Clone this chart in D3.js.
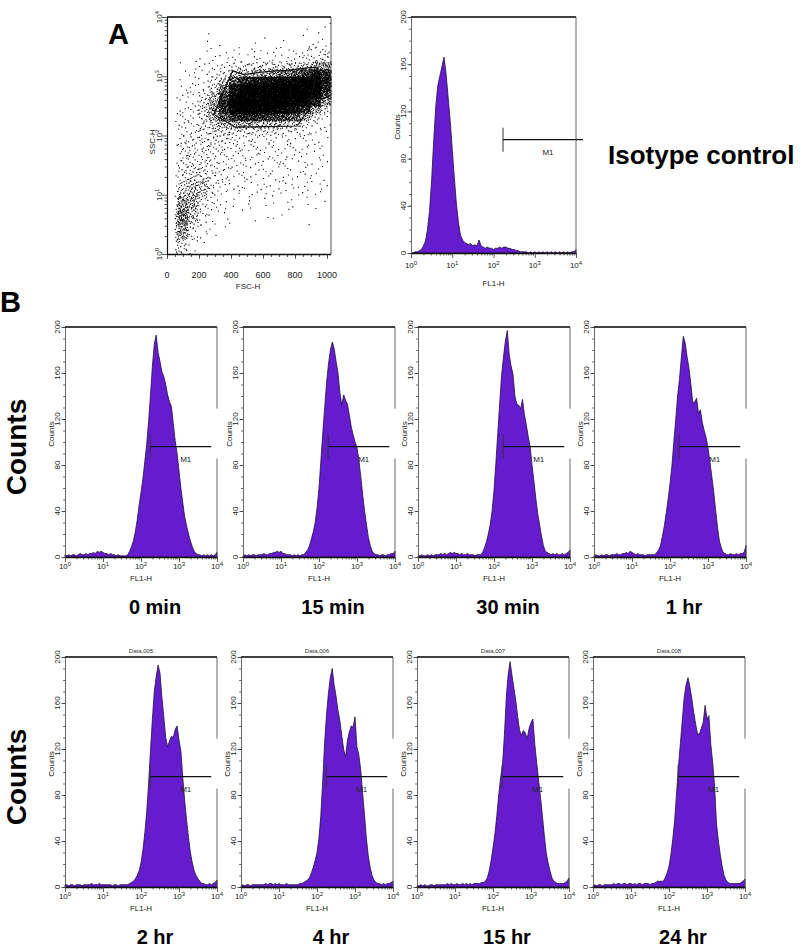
<!DOCTYPE html>
<html><head><meta charset="utf-8">
<script src="https://cdn.jsdelivr.net/npm/d3@7"></script>
<style>
body{margin:0;background:#fff;}
svg{display:block;}
</style></head><body>
<svg id="fig" width="800" height="947"></svg>
<script>
// ---------------- DATA ----------------
// FL1-H channel positions (log10 decades)
const fl1Decades = [0,0.05,0.1,0.15,0.2,0.25,0.3,0.35,0.4,0.45,0.5,0.55,0.6,0.65,0.7,0.75,0.8,0.85,0.9,0.95,1,1.05,1.1,1.15,1.2,1.25,1.3,1.35,1.4,1.45,1.5,1.55,1.6,1.65,1.7,1.75,1.8,1.85,1.9,1.95,2,2.05,2.1,2.15,2.2,2.25,2.3,2.35,2.4,2.45,2.5,2.55,2.6,2.65,2.7,2.75,2.8,2.85,2.9,2.95,3,3.05,3.1,3.15,3.2,3.25,3.3,3.35,3.4,3.45,3.5,3.55,3.6,3.65,3.7,3.75,3.8,3.85,3.9,3.95,4];

const isotypeCounts = [0,0,1,1,2,3,6,10,20,36, 62,95,124,142,150,158,166,152,132,112, 88,64,42,26,15,11,9,8,7,8, 6,7,6,11,6,5,4,5,4,4, 3,4,4,5,4,5,5,4,4,3, 3,2,2,1,1,1,1,0,1,0, 1,0,1,0,1,0,1,0,1,0, 1,0,1,0,1,0,1,0,1,1, 3];

const counts0min = [2,1,2,1,2,2,1,2,3,2, 2,3,2,3,3,4,3,5,4,5, 4,3,3,2,3,2,2,1,2,1, 1,1,
  1,2,5,9,14,22,32,45,56,68, 83,98,118,141,166,185,193,178,170,161, 157,150,141,135,131,116,101,90,75,60, 47,35,27,20,14,9,5,3,2,2, 1,2,1,2,1,2,1,2,4];
const counts15min = [1,2,1,2,1,2,2,1,2,2, 2,3,2,2,3,3,4,4,5,4, 5,3,3,2,2,2,1,2,1,2, 1,2,
  2,4,6,10,16,22,30,43,60,84, 108,130,152,168,180,187,181,170,160,143, 132,141,136,133,123,113,106,100,95,84, 70,54,40,28,17,10,5,3,2,2, 1,2,2,1,2,2,3,3,5];
const counts30min = [1,1,2,1,1,2,1,2,1,2, 2,2,3,2,3,2,3,4,3,4, 3,3,2,3,2,2,3,2,2,2, 1,2,
  2,2,4,8,13,20,28,40,58,82, 108,134,158,174,188,197,176,166,159,140, 133,132,129,137,124,115,105,96,80,66, 51,38,28,18,10,5,4,3,2,3, 2,3,2,2,3,2,3,4,6];
const counts1hr = [1,2,1,1,2,1,2,2,1,2, 2,2,3,2,2,3,3,4,3,5, 4,3,2,3,2,2,2,1,2,2, 2,2,
  2,4,6,10,18,27,38,50,64,79, 100,119,140,155,174,192,186,174,164,150, 134,135,138,125,128,117,110,104,95,83, 70,57,41,26,14,8,4,3,2,2, 3,2,2,3,2,3,3,4,10];
const counts2hr = [2,2,1,2,2,1,2,2,2,1, 2,2,2,2,3,2,2,2,3,2, 2,2,2,2,2,1,2,2,1,2, 2,2,
  2,2,3,4,5,7,10,14,21,32, 47,65,90,119,146,170,183,193,186,165, 148,130,122,127,131,130,137,140,128,118, 95,75,58,43,30,21,14,10,7,5, 3,3,2,2,3,2,3,4,6];
const counts4hr = [1,2,1,2,2,1,2,2,2,2, 2,2,2,3,2,3,3,2,3,2, 3,2,2,2,3,2,2,2,2,2, 2,3,
  3,4,5,6,8,12,17,23,30,42, 62,92,125,150,168,182,190,176,166,154, 145,132,120,113,127,135,140,139,148,122, 115,102,82,63,42,27,17,10,6,4, 3,3,2,3,2,3,3,4,5];
const counts15hr = [1,1,2,1,2,1,1,2,2,1, 2,2,2,2,2,2,3,2,3,2, 2,3,2,2,3,2,3,2,3,2, 3,3,
  3,3,4,4,5,8,14,23,34,46, 62,80,95,106,132,165,185,196,184,173, 162,148,136,132,136,134,129,138,143,146, 124,108,93,78,62,45,30,21,14,8, 5,4,3,3,3,3,4,5,8];
const counts24hr = [1,2,1,2,2,1,2,2,2,2, 2,3,2,3,3,2,3,3,2,3, 3,2,3,2,3,3,2,3,3,3, 2,3,
  3,4,5,5,5,5,8,12,18,28, 42,58,82,105,125,145,165,176,182,174, 164,152,142,133,133,138,143,158,146,149, 124,108,88,55,40,28,18,10,6,4, 3,3,3,3,3,3,4,5,7];

const timeLabels = ["0 min","15 min","30 min","1 hr","2 hr","4 hr","15 hr","24 hr"];
const panelTitles = ["","","","","Data.005","Data.006","Data.007","Data.008"];
const countTicks = [0,40,80,120,160,200];
const fscTicks = [0,200,400,600,800,1000];
const gateIsotype = [170, 14800];   // M1 marker range (FL1-H)
const gateTimecourse = [174, 7080];
const gateLevel = 96;               // counts at which M1 is drawn

// FSC/SSC dot density: columns = FSC bins, rows = log10 SSC bins (0.125 decade), bottom row first
const fscEdges = [48,64,128,192,256,320,384,448,512,576,640,704,768,832,896,960,1024];
const sscRowStart = [0,0.125,0.25,0.375,0.5,0.625,0.75,0.875,1,1.125,1.25,1.375,1.5,1.625,1.75,1.875,2,2.125,2.25,2.375,2.5,2.625,2.75,2.875,3,3.125,3.25,3.375,3.5,3.625,3.75,3.875];
const dotDensity = [
  [3,8,2,0,0,0,0,0,0,0,0,0,0,0,0,0],
  [2,7,2,1,0,0,0,0,0,0,0,0,0,0,0,0],
  [4,24,5,2,1,0,0,0,0,0,0,0,0,0,0,0],
  [4,26,6,2,1,1,0,0,0,0,0,0,0,0,0,0],
  [4,42,14,3,2,1,1,0,1,0,1,0,0,1,0,0],
  [4,43,16,4,2,1,0,1,0,1,0,1,0,0,0,0],
  [2,30,22,6,3,2,1,1,1,1,1,1,1,1,1,0],
  [2,25,24,8,3,1,1,1,1,1,1,1,1,1,0,1],
  [1,12,20,14,5,3,2,2,2,2,2,2,2,2,2,1],
  [1,10,18,16,6,3,2,2,2,2,2,2,2,2,2,1],
  [1,7,9,9,6,4,3,3,2,2,2,2,2,2,2,1],
  [0,6,8,8,5,4,3,2,2,2,2,2,2,2,1,1],
  [1,6,6,6,5,4,3,3,3,3,3,3,2,2,2,1],
  [0,6,6,6,5,4,3,3,3,3,3,2,2,2,2,1],
  [1,6,6,6,6,5,4,4,4,3,3,3,3,3,2,1],
  [0,5,6,7,7,6,5,4,4,3,3,3,3,2,2,1],
  [0,4,4,7,9,10,9,8,8,7,7,6,5,4,3,1],
  [1,4,4,8,13,20,24,22,20,18,16,14,10,6,4,2],
  [0,3,4,9,22,48,75,85,80,75,68,60,45,22,8,3],
  [1,3,4,10,30,80,130,150,145,140,135,130,110,68,26,6],
  [0,2,3,8,26,75,150,165,165,165,165,165,158,135,82,26],
  [1,2,3,6,18,60,135,160,165,165,165,165,165,158,135,62],
  [0,2,2,4,10,35,100,140,150,155,158,162,165,165,150,92],
  [0,1,2,3,6,15,50,80,95,105,112,122,132,145,145,98],
  [0,1,2,2,4,6,14,18,22,26,30,38,48,66,92,78],
  [0,1,1,2,3,4,6,7,8,8,9,10,12,16,26,32],
  [0,0,1,1,2,2,2,2,2,2,2,3,3,5,6,7],
  [0,0,0,1,1,1,2,1,2,2,2,2,2,3,4,5],
  [0,0,0,1,0,1,0,0,1,0,0,1,0,1,2,2],
  [0,0,0,0,1,0,0,0,0,1,0,0,0,1,1,1],
  [0,0,0,0,0,0,0,0,0,0,0,0,0,1,0,1],
  [0,0,0,0,0,0,0,0,0,0,0,0,0,0,0,1]
];
// gate polygon [FSC, log10 SSC]
const gatePolygon = [[410,3.09],[479,3.03],[625,3.08],[750,3.10],[875,3.14],[942,3.15],[885,2.43],[812,2.16],[615,2.15],[427,2.14],[292,2.36]];

// ---------------- DRAW ----------------
const svg = d3.select("#fig");
svg.append("rect").attr("width",800).attr("height",947).attr("fill","#fff");
const SMALL = "'Liberation Sans Narrow','Liberation Sans',Arial,sans-serif";
const BOLD = "'Liberation Sans',Arial,sans-serif";
const PURPLE = "#651ccf";
const EDGE = "#22103f";

function superText(sel, base, exp, size){
  sel.append("tspan").text(base);
  sel.append("tspan").attr("dy",-3).attr("font-size",size*0.75).text(exp);
}

function drawHist(p){
  const g = svg.append("g");
  const x = d3.scaleLog().domain([1,1e4]).range([p.left,p.left+p.w]);
  const y = d3.scaleLinear().domain([0,200]).range([p.top+p.h,p.top]);
  const bottom = p.top+p.h;
  const area = d3.area()
    .x((d,i)=>x(Math.pow(10,fl1Decades[i])))
    .y0(y(0)).y1(d=>y(d));
  g.append("path").datum(p.counts).attr("d",area)
    .attr("fill",PURPLE).attr("stroke",EDGE).attr("stroke-width",0.8).attr("stroke-linejoin","round");

  const minor=[]; for(let k=0;k<4;k++) for(let m=2;m<10;m++) minor.push(m*Math.pow(10,k));
  const major=[1,10,100,1000,10000];
  g.append("g").attr("transform",`translate(0,${bottom})`)
    .call(d3.axisBottom(x).tickValues(minor).tickSize(2.5).tickFormat(""))
    .call(s=>s.select(".domain").remove());
  g.append("g").attr("transform",`translate(0,${bottom})`)
    .call(d3.axisBottom(x).tickValues(major).tickSize(5).tickSizeOuter(0).tickFormat(""))
    .call(s=>s.select(".domain").attr("stroke","#111").attr("stroke-width",1.6));
  g.append("g").attr("transform",`translate(${p.left},0)`)
    .call(d3.axisLeft(y).tickValues(d3.range(0,201,10)).tickSize(1.8).tickFormat(""))
    .call(s=>s.select(".domain").remove());
  g.append("g").attr("transform",`translate(${p.left},0)`)
    .call(d3.axisLeft(y).tickValues(countTicks).tickSize(3.5).tickSizeOuter(0).tickFormat(""))
    .call(s=>s.select(".domain").attr("stroke","#444").attr("stroke-width",0.8));
  g.selectAll(".tick line").attr("stroke","#333").attr("stroke-width",0.8);

  // frame
  g.append("line").attr("x1",p.left).attr("x2",p.left+p.w).attr("y1",p.top).attr("y2",p.top)
    .attr("stroke","#000").attr("stroke-width",1.6);
  const gy = y(gateLevel);
  if(p.rightGap){
    g.append("line").attr("x1",p.left+p.w).attr("x2",p.left+p.w).attr("y1",p.top).attr("y2",gy-38).attr("stroke","#555").attr("stroke-width",0.9);
    g.append("line").attr("x1",p.left+p.w).attr("x2",p.left+p.w).attr("y1",gy+12).attr("y2",bottom).attr("stroke","#555").attr("stroke-width",0.9);
  } else {
    g.append("line").attr("x1",p.left+p.w).attr("x2",p.left+p.w).attr("y1",p.top).attr("y2",bottom).attr("stroke","#555").attr("stroke-width",0.9);
  }

  // gate M1
  const gx0 = x(p.gate[0]), gx1 = x(p.gate[1]);
  g.append("line").attr("x1",gx0).attr("x2",gx1).attr("y1",gy).attr("y2",gy).attr("stroke","#111").attr("stroke-width",1.3);
  g.append("line").attr("x1",gx0).attr("x2",gx0).attr("y1",gy-12).attr("y2",gy+12).attr("stroke","#333").attr("stroke-width",1);
  g.append("text").attr("x",(gx0+gx1)/2+5).attr("y",gy+15).attr("text-anchor","middle")
    .attr("font-family",SMALL).attr("font-size",8).attr("fill","#222").text("M1");

  // x labels
  g.selectAll(".xl").data(major).join("text").attr("class","xl")
    .attr("x",d=>x(d)).attr("y",bottom+p.xlab).attr("text-anchor","middle")
    .attr("font-family",SMALL).attr("font-size",8).attr("fill","#222")
    .each(function(d){ superText(d3.select(this),"10",Math.round(Math.log10(d)),8); });
  g.append("text").attr("x",x(100)).attr("y",bottom+p.flab).attr("text-anchor","middle")
    .attr("font-family",SMALL).attr("font-size",8).attr("fill","#222").text("FL1-H");
  // y labels
  g.selectAll(".yl").data(countTicks).join("text").attr("class","yl")
    .attr("transform",d=>`translate(${p.left-5},${y(d)}) rotate(-90)`).attr("text-anchor","middle")
    .attr("font-family",SMALL).attr("font-size",8).attr("fill","#222").text(d=>d);
  g.append("text").attr("transform",`translate(${p.left-11},${p.top+p.h/2-8}) rotate(-90)`).attr("text-anchor","middle")
    .attr("font-family",SMALL).attr("font-size",8).attr("fill","#222").text("Counts");
  if(p.title){
    g.append("text").attr("x",p.left+p.w/2).attr("y",p.top-4).attr("text-anchor","middle")
      .attr("font-family",SMALL).attr("font-size",6).attr("fill","#333").text(p.title);
  }
  if(p.label){
    g.append("text").attr("x",p.left+90).attr("y",bottom+57).attr("text-anchor","middle")
      .attr("font-family",BOLD).attr("font-weight","bold").attr("font-size",20).attr("fill","#000").text(p.label);
  }
}

// ---- Panel A: FSC/SSC scatter ----
(function(){
  const g = svg.append("g");
  const x = d3.scaleLinear().domain([0,1024]).range([167,330.8]);
  const y = d3.scaleLog().domain([1,1e4]).range([254,17]);
  function halton(i,b){ let f=1,r=0; while(i>0){ f/=b; r+=f*(i%b); i=Math.floor(i/b);} return r; }
  const rowH = sscRowStart[1]-sscRowStart[0];
  let k=1, path="";
  dotDensity.forEach((row,ri)=>{
    row.forEach((n,ci)=>{
      const lo=fscEdges[ci], hi=fscEdges[ci+1], r0=sscRowStart[ri];
      for(let j=0;j<n;j++){
        const px = x(lo+halton(k,2)*(hi-lo));
        const py = y(Math.pow(10, r0+halton(k,3)*rowH));
        k++;
        path += `M${px.toFixed(2)},${py.toFixed(2)}h1.1v1.1h-1.1z`;
      }
    });
  });
  g.append("path").attr("d",path).attr("fill","#000");
  // gate
  g.append("path").datum(gatePolygon)
    .attr("d",d3.line().x(d=>x(d[0])).y(d=>y(Math.pow(10,d[1]))).curve(d3.curveLinearClosed))
    .attr("fill","none").attr("stroke","#111").attr("stroke-width",1.2);
  // axes
  g.append("g").attr("transform","translate(0,254)")
    .call(d3.axisBottom(x).tickValues(d3.range(0,1001,50)).tickSize(3).tickFormat(""))
    .call(s=>s.select(".domain").remove());
  g.append("g").attr("transform","translate(0,254)")
    .call(d3.axisBottom(x).tickValues(fscTicks).tickSize(5).tickSizeOuter(0).tickFormat(""))
    .call(s=>s.select(".domain").attr("stroke","#111").attr("stroke-width",1.4));
  const minor=[]; for(let kk=0;kk<4;kk++) for(let m=2;m<10;m++) minor.push(m*Math.pow(10,kk));
  g.append("g").attr("transform","translate(167,0)")
    .call(d3.axisLeft(y).tickValues(minor).tickSize(2.5).tickFormat(""))
    .call(s=>s.select(".domain").remove());
  g.append("g").attr("transform","translate(167,0)")
    .call(d3.axisLeft(y).tickValues([1,10,100,1000,10000]).tickSize(5).tickSizeOuter(0).tickFormat(""))
    .call(s=>s.select(".domain").attr("stroke","#111").attr("stroke-width",1.2));
  g.selectAll(".tick line").attr("stroke","#333").attr("stroke-width",0.8);
  g.append("line").attr("x1",167).attr("x2",331).attr("y1",17).attr("y2",17).attr("stroke","#000").attr("stroke-width",1.6);
  g.append("line").attr("x1",331).attr("x2",331).attr("y1",17).attr("y2",254).attr("stroke","#444").attr("stroke-width",0.9);
  g.selectAll(".fx").data(fscTicks).join("text").attr("class","fx")
    .attr("x",d=>x(d)).attr("y",278).attr("text-anchor","middle")
    .attr("font-family",SMALL).attr("font-size",9).attr("fill","#222").text(d=>d);
  g.append("text").attr("x",248).attr("y",289).attr("text-anchor","middle")
    .attr("font-family",SMALL).attr("font-size",8).attr("fill","#222").text("FSC-H");
  g.selectAll(".sy").data([1,10,100,1000,10000]).join("text").attr("class","sy")
    .attr("transform",d=>`translate(162,${y(d)}) rotate(-90)`).attr("text-anchor","middle")
    .attr("font-family",SMALL).attr("font-size",8).attr("fill","#222")
    .each(function(d){ superText(d3.select(this),"10",Math.round(Math.log10(d)),8); });
  g.append("text").attr("transform","translate(155,142) rotate(-90)").attr("text-anchor","middle")
    .attr("font-family",SMALL).attr("font-size",8).attr("fill","#222").text("SSC-H");
})();

// ---- Isotype histogram ----
drawHist({left:411, top:17, w:165, h:236, counts:isotypeCounts, gate:gateIsotype, rightGap:false, xlab:15, flab:33});

// ---- Panel B time course ----
const seriesB = [counts0min,counts15min,counts30min,counts1hr,counts2hr,counts4hr,counts15hr,counts24hr];
const leftsB = [65,243,418,594,65,241,417,593];
const topsB = [327,327,327,327,657,657,657,657];
seriesB.forEach((c,i)=>{
  drawHist({left:leftsB[i], top:topsB[i], w:152, h:230, counts:c, gate:gateTimecourse, rightGap:true,
            xlab:12, flab:24, label:timeLabels[i], title:panelTitles[i]});
});

// ---- big labels ----
svg.append("text").attr("x",108).attr("y",44).attr("font-family",BOLD).attr("font-weight","bold").attr("font-size",29).text("A");
svg.append("text").attr("x",0).attr("y",312).attr("font-family",BOLD).attr("font-weight","bold").attr("font-size",29).text("B");
svg.append("text").attr("x",608).attr("y",164).attr("font-family",BOLD).attr("font-weight","bold").attr("font-size",26).text("Isotype control");
[447,777].forEach(cy=>{
  svg.append("text").attr("transform",`translate(26,${cy}) rotate(-90)`).attr("text-anchor","middle")
    .attr("font-family",BOLD).attr("font-weight","bold").attr("font-size",28).text("Counts");
});
</script>
</body></html>
